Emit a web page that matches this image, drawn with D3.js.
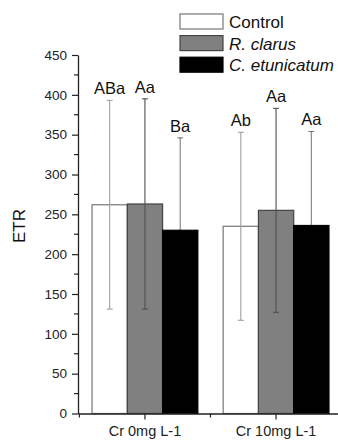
<!DOCTYPE html>
<html>
<head>
<meta charset="utf-8">
<script src="https://cdn.jsdelivr.net/npm/d3@7"></script>
<style>
  body { margin: 0; background: #fff; }
  svg { display: block; font-family: Arial, "Liberation Sans", sans-serif; }
</style>
</head>
<body>
<svg id="chart" width="338" height="441"></svg>
<script>
// data
const categories = ['Cr 0mg L-1', 'Cr 10mg L-1'];
const seriesNames = ['Control', 'R. clarus', 'C. etunicatum'];
const control = [262, 235];
const rClarus = [263, 255];
const cEtun = [230, 236];
const controlErr = [131, 118];
const rClarusErr = [132, 128];
const cEtunErr = [116, 118];
const controlLetters = ['ABa', 'Ab'];
const rClarusLetters = ['Aa', 'Aa'];
const cEtunLetters = ['Ba', 'Aa'];
const yTicks = [0, 50, 100, 150, 200, 250, 300, 350, 400, 450];

const fills = ['#ffffff', '#808080', '#000000'];
const strokes = ['#777777', '#444444', '#000000'];
const errColors = ['#a0a0a0', '#505050', '#000000'];
const errOpacity = [1, 1, 0.5];

const values = [control, rClarus, cEtun];
const errs = [controlErr, rClarusErr, cEtunErr];
const letters = [controlLetters, rClarusLetters, cEtunLetters];

const svg = d3.select('#chart');

const y = d3.scaleLinear()
    .domain([0, 450])
    .range([413.5, 55]);

const x0 = d3.scaleBand()
    .domain(categories)
    .range([78, 343])
    .paddingInner(0.193)
    .paddingOuter(0.107);

const x1 = d3.scaleBand()
    .domain(seriesNames)
    .range([0, x0.bandwidth()]);

// flat records for drawing
const rows = [];
categories.forEach(function (c, i) {
    seriesNames.forEach(function (s, j) {
        rows.push({ cat: c, ser: s, j: j, v: values[j][i], e: errs[j][i], lab: letters[j][i] });
    });
});

const g = svg.append('g');

// bars
g.selectAll('rect.bar')
    .data(rows)
    .enter()
    .append('rect')
    .attr('class', 'bar')
    .attr('x', d => x0(d.cat) + x1(d.ser))
    .attr('y', d => y(d.v))
    .attr('width', x1.bandwidth())
    .attr('height', d => y(0) - y(d.v))
    .attr('fill', d => fills[d.j])
    .attr('stroke', d => strokes[d.j])
    .attr('stroke-width', 1.2);

// error bars
const cx = d => x0(d.cat) + x1(d.ser) + x1.bandwidth() / 2;
const eb = g.selectAll('g.err')
    .data(rows)
    .enter()
    .append('g')
    .attr('class', 'err')
    .attr('stroke', d => errColors[d.j])
    .attr('stroke-opacity', d => errOpacity[d.j])
    .attr('stroke-width', 1.1);

eb.append('line')
    .attr('x1', cx).attr('x2', cx)
    .attr('y1', d => y(d.v - d.e))
    .attr('y2', d => y(d.v + d.e));
eb.append('line')
    .attr('x1', d => cx(d) - 3).attr('x2', d => cx(d) + 3)
    .attr('y1', d => y(d.v + d.e)).attr('y2', d => y(d.v + d.e));
eb.append('line')
    .attr('x1', d => cx(d) - 3).attr('x2', d => cx(d) + 3)
    .attr('y1', d => y(d.v - d.e)).attr('y2', d => y(d.v - d.e));

// significance letters
g.selectAll('text.sig')
    .data(rows)
    .enter()
    .append('text')
    .attr('class', 'sig')
    .attr('x', cx)
    .attr('y', d => y(d.v + d.e) - 6)
    .attr('text-anchor', 'middle')
    .attr('font-size', 16.5)
    .attr('fill', '#111')
    .text(d => d.lab);

// y axis
const yAxis = d3.axisLeft(y)
    .tickValues(yTicks)
    .tickSize(6)
    .tickSizeOuter(0)
    .tickPadding(5);

const ya = svg.append('g')
    .attr('transform', 'translate(78,0)')
    .call(yAxis);
ya.select('.domain').attr('stroke', '#222').attr('stroke-width', 1.3);
ya.selectAll('.tick line').attr('stroke', '#222').attr('stroke-width', 1.2);
ya.selectAll('.tick text').attr('font-size', 13.5).attr('fill', '#222').attr('font-family', 'Arial, "Liberation Sans", sans-serif');

// minor y ticks
svg.append('g')
    .selectAll('line')
    .data(yTicks.slice(0, -1).map(t => t + 25))
    .enter()
    .append('line')
    .attr('x1', 74).attr('x2', 78)
    .attr('y1', d => y(d)).attr('y2', d => y(d))
    .attr('stroke', '#222').attr('stroke-width', 1.2);

// x axis
const xa = svg.append('g')
    .attr('transform', 'translate(0,' + y(0) + ')')
    .call(d3.axisBottom(x0).tickSize(6).tickSizeOuter(0).tickPadding(6));
xa.select('.domain').attr('stroke', '#222').attr('stroke-width', 1.3);
xa.selectAll('.tick line').attr('stroke', '#222').attr('stroke-width', 1.2);
xa.selectAll('.tick text').attr('font-size', 14.5).attr('fill', '#222').attr('font-family', 'Arial, "Liberation Sans", sans-serif');

// minor x ticks at group boundaries
const step = x0.step();
svg.append('g')
    .selectAll('line')
    .data(categories.map(c => x0(c) + x0.bandwidth() / 2 - step / 2))
    .enter()
    .append('line')
    .attr('x1', d => d).attr('x2', d => d)
    .attr('y1', y(0)).attr('y2', y(0) + 4)
    .attr('stroke', '#222').attr('stroke-width', 1.2);

// y title
svg.append('text')
    .attr('transform', 'translate(25,226) rotate(-90)')
    .attr('text-anchor', 'middle')
    .attr('font-size', 17)
    .attr('fill', '#111')
    .text('ETR');

// legend
const leg = svg.append('g')
    .selectAll('g')
    .data(seriesNames)
    .enter()
    .append('g')
    .attr('transform', (d, i) => 'translate(180,' + (14 + i * 21.6) + ')');
leg.append('rect')
    .attr('width', 43).attr('height', 15)
    .attr('fill', (d, i) => fills[i])
    .attr('stroke', (d, i) => strokes[i])
    .attr('stroke-width', 1.2);
leg.append('text')
    .attr('x', 49).attr('y', 14)
    .attr('font-size', 17)
    .attr('font-style', (d, i) => i > 0 ? 'italic' : 'normal')
    .attr('fill', '#111')
    .text(d => d);
</script>
</body>
</html>
